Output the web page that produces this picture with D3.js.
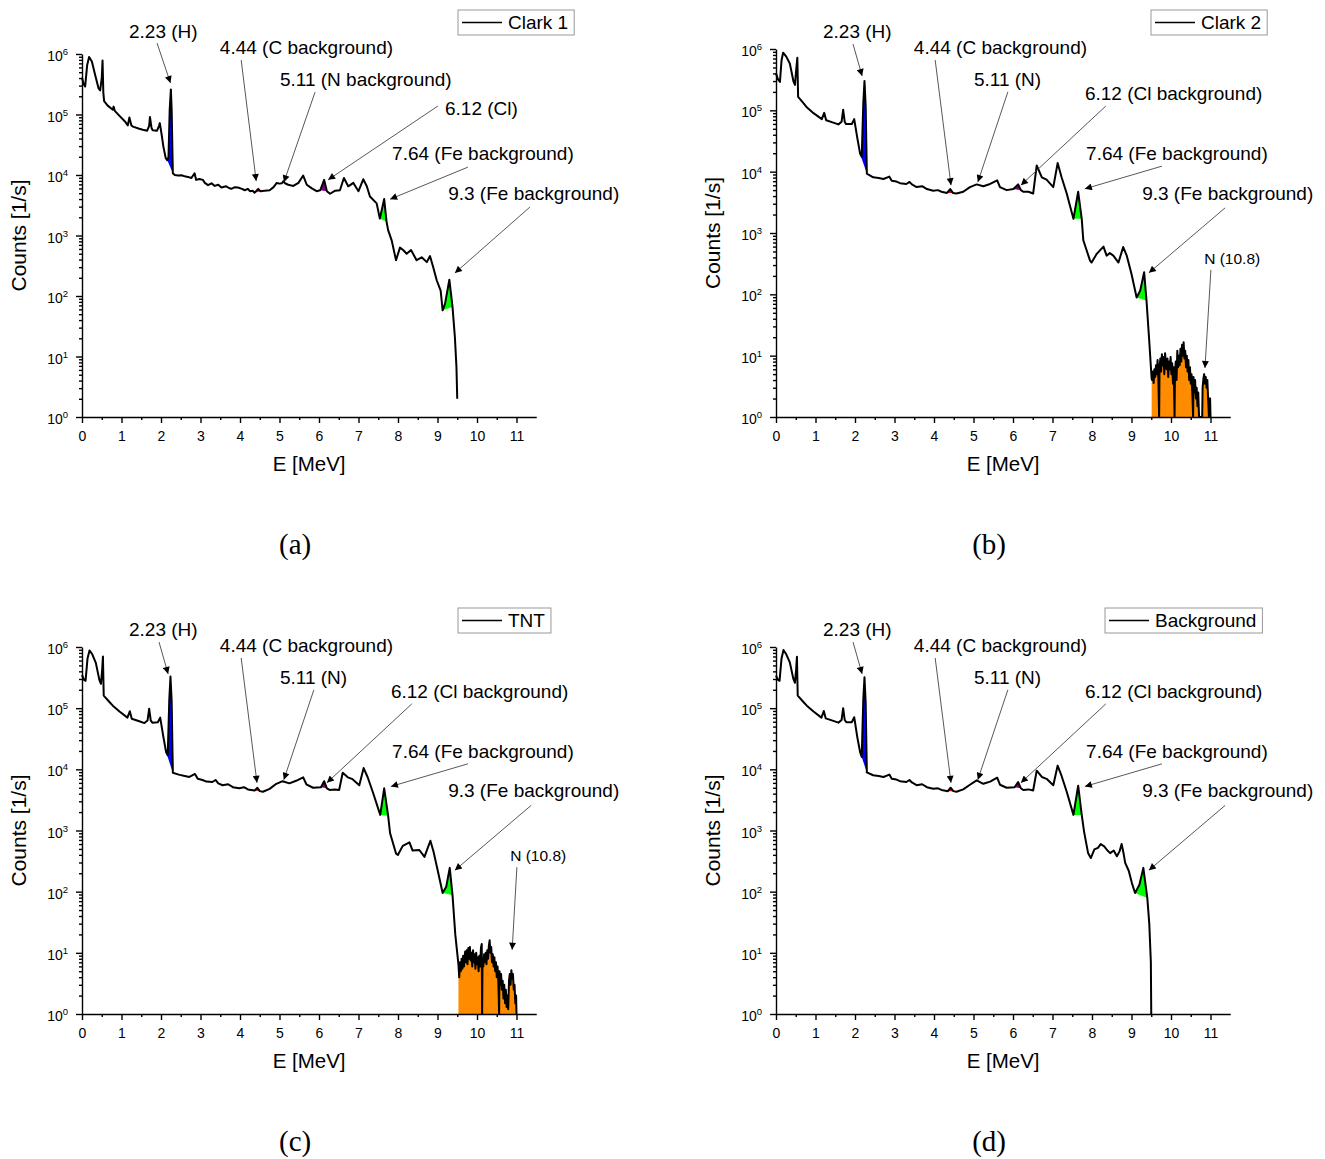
<!DOCTYPE html>
<html>
<head>
<meta charset="utf-8">
<script src="https://cdn.jsdelivr.net/npm/d3@7"></script>
<style>
  body { margin: 0; background: #fff; }
</style>
</head>
<body>
<div id="chart"></div>
<script>
// ---- spectra: [energy MeV, counts 1/s] ----
var clark1Spectrum = [
  [0.00,4.1e5],[0.04,3.2e5],[0.08,2.9e5],[0.13,6.5e5],[0.18,8.9e5],[0.25,7.5e5],[0.33,4.6e5],[0.42,2.7e5],
  [0.46,2.5e5],[0.50,4.0e5],[0.52,7.8e5],[0.54,2.3e5],[0.56,1.66e5],[0.65,1.4e5],[0.78,1.2e5],[0.80,1.35e5],
  [0.83,1.15e5],[0.95,9.5e4],[1.10,7.5e4],[1.16,6.6e4],[1.20,8.9e4],[1.25,6.6e4],[1.29,6.3e4],[1.45,5.8e4],
  [1.54,5.6e4],[1.65,5.4e4],[1.70,6.5e4],[1.72,9.1e4],[1.76,6.0e4],[1.79,5.5e4],[1.90,5.4e4],[1.95,6.5e4],
  [1.97,7.2e4],[2.02,4.5e4],[2.06,2.95e4],[2.12,1.9e4],[2.16,1.75e4],[2.19,2.0e4],[2.22,1.2e5],[2.25,2.6e5],
  [2.27,1.2e5],[2.30,1.07e4],[2.35,1.0e4],[2.43,9.8e3],[2.52,9.9e3],[2.60,9.5e3],[2.68,9.3e3],[2.77,8.9e3],
  [2.85,1.07e4],[2.89,8.3e3],[2.97,8.6e3],[3.06,8.3e3],[3.11,7.4e3],[3.19,6.8e3],[3.28,7.3e3],[3.36,6.6e3],
  [3.45,6.9e3],[3.53,6.2e3],[3.65,6.5e3],[3.72,6.1e3],[3.78,5.9e3],[3.87,6.3e3],[3.95,6.2e3],[4.05,5.9e3],
  [4.12,5.6e3],[4.20,5.9e3],[4.25,5.4e3],[4.32,5.5e3],[4.37,5.1e3],[4.46,5.9e3],[4.52,5.4e3],[4.62,5.5e3],
  [4.75,5.6e3],[4.85,6.3e3],[4.93,7.4e3],[5.00,7.2e3],[5.06,7.3e3],[5.10,7.9e3],[5.14,7.3e3],[5.22,6.9e3],
  [5.35,6.6e3],[5.48,7.4e3],[5.60,9.8e3],[5.69,6.9e3],[5.82,6.0e3],[5.94,5.4e3],[6.03,5.6e3],[6.13,8.3e3],
  [6.20,5.4e3],[6.28,4.9e3],[6.41,5.5e3],[6.53,5.6e3],[6.63,8.9e3],[6.74,6.5e3],[6.87,7.4e3],[7.00,5.4e3],
  [7.12,8.5e3],[7.21,6.5e3],[7.29,4.4e3],[7.46,3.4e3],[7.54,1.9e3],[7.65,4.0e3],[7.71,1.7e3],[7.75,1.23e3],
  [7.84,830],[7.95,390],[8.05,630],[8.13,575],[8.22,500],[8.33,575],[8.47,390],[8.60,436],
  [8.73,363],[8.81,457],[8.89,302],[8.98,182],[9.08,123],[9.13,58],[9.19,74],[9.30,186],
  [9.38,66],[9.44,21],[9.48,6.6],[9.50,2]
];

var clark2Main = [
  [0.00,4.0e5],[0.05,3.2e5],[0.10,2.9e5],[0.14,6.5e5],[0.18,8.7e5],[0.26,7.5e5],[0.35,5.8e5],[0.44,3.0e5],
  [0.48,2.6e5],[0.51,4.5e5],[0.54,7.2e5],[0.56,1.66e5],[0.70,1.3e5],[0.78,1.12e5],[0.95,9.0e4],[1.16,7.2e4],
  [1.22,9.1e4],[1.27,6.9e4],[1.45,6.3e4],[1.58,5.9e4],[1.66,6.5e4],[1.70,1.02e5],[1.74,6.5e4],[1.77,6.0e4],
  [1.92,6.0e4],[1.98,7.2e4],[2.06,3.5e4],[2.13,1.95e4],[2.17,1.74e4],[2.21,1.3e5],[2.24,3.0e5],[2.27,1.2e5],
  [2.30,9.3e3],[2.46,8.1e3],[2.60,7.9e3],[2.72,7.6e3],[2.87,8.3e3],[2.93,7.1e3],[3.05,6.9e3],[3.14,6.5e3],
  [3.30,6.3e3],[3.38,6.8e3],[3.44,6.2e3],[3.56,5.6e3],[3.70,5.8e3],[3.82,5.2e3],[3.98,4.9e3],[4.10,5.0e3],
  [4.19,4.7e3],[4.33,4.5e3],[4.41,5.2e3],[4.48,4.5e3],[4.57,4.4e3],[4.74,4.7e3],[4.91,5.6e3],[5.08,6.2e3],
  [5.25,5.8e3],[5.42,6.3e3],[5.60,7.2e3],[5.67,5.6e3],[5.84,5.0e3],[6.01,5.2e3],[6.13,6.2e3],[6.20,5.0e3],
  [6.26,4.7e3],[6.39,4.7e3],[6.51,4.4e3],[6.60,1.26e4],[6.73,8.1e3],[6.85,7.4e3],[7.02,5.6e3],[7.13,1.38e4],
  [7.23,8.1e3],[7.36,4.4e3],[7.53,1.7e3],[7.65,4.7e3],[7.74,1.7e3],[7.78,760],[7.95,355],[7.99,330],
  [8.12,457],[8.29,600],[8.37,427],[8.45,470],[8.54,427],[8.67,330],[8.79,590],[8.88,427],
  [9.00,214],[9.13,89],[9.22,115],[9.32,230],[9.38,79],[9.45,17],[9.51,4.2]
];
var clark2Tail = [
  [9.52,4.0],[9.54,5.5],[9.56,3.6],[9.58,6.0],[9.60,4.5],[9.62,7.0],[9.64,5.0],[9.66,8.5],[9.68,4.2],[9.70,1.0],
  [9.71,6.5],[9.73,9.0],[9.75,5.5],[9.77,10.5],[9.79,7.0],[9.81,9.5],[9.83,5.0],[9.85,11.0],[9.87,7.5],[9.89,6.0],
  [9.91,9.0],[9.93,4.5],[9.95,8.0],[9.97,6.0],[9.99,9.5],[10.01,5.0],[10.03,7.5],[10.05,3.5],[10.07,6.5],[10.09,1.0],
  [10.10,5.0],[10.12,8.0],[10.14,4.0],[10.16,12.0],[10.18,6.5],[10.20,10.0],[10.22,7.0],[10.24,13.0],[10.26,8.0],
  [10.28,15.0],[10.30,10.0],[10.32,16.5],[10.34,9.0],[10.36,12.0],[10.38,6.5],[10.40,10.0],[10.42,5.5],[10.44,8.5],
  [10.46,4.0],[10.48,6.5],[10.50,3.5],[10.52,5.0],[10.54,2.5],[10.56,1.0],[10.57,4.5],[10.59,2.5],[10.61,4.0],
  [10.63,2.0],[10.65,3.0],[10.67,1.5],[10.69,2.5],[10.71,1.0],[10.75,1.0],[10.79,1.0],[10.80,3.0],[10.82,4.2],
  [10.84,5.0],[10.86,3.5],[10.88,4.5],[10.90,3.0],[10.92,4.0],[10.94,2.0],[10.96,1.0],[10.97,2.0],[10.99,2.0],[11.00,1.0]
];

var tntMain = [
  [0.00,3.5e5],[0.05,2.9e5],[0.09,2.8e5],[0.14,6.5e5],[0.19,8.8e5],[0.26,7.6e5],[0.35,5.5e5],[0.44,2.9e5],
  [0.48,2.5e5],[0.51,4.2e5],[0.53,7.0e5],[0.55,1.6e5],[0.70,1.25e5],[0.78,1.1e5],[0.95,8.8e4],[1.15,7.0e4],
  [1.21,8.9e4],[1.26,6.7e4],[1.45,6.1e4],[1.58,5.7e4],[1.66,6.3e4],[1.70,9.8e4],[1.74,6.3e4],[1.78,5.8e4],
  [1.92,5.9e4],[1.98,7.0e4],[2.06,3.4e4],[2.13,1.9e4],[2.17,1.7e4],[2.21,1.4e5],[2.24,3.3e5],[2.27,1.3e5],
  [2.30,8.8e3],[2.45,8.2e3],[2.60,7.8e3],[2.72,7.5e3],[2.86,8.4e3],[2.93,7.0e3],[3.05,6.7e3],[3.15,6.3e3],
  [3.30,6.2e3],[3.38,6.7e3],[3.45,5.9e3],[3.56,5.5e3],[3.70,5.7e3],[3.82,5.1e3],[3.98,4.9e3],[4.10,5.1e3],
  [4.20,4.7e3],[4.37,4.5e3],[4.44,5.0e3],[4.50,4.4e3],[4.58,4.3e3],[4.75,4.8e3],[4.92,5.8e3],[5.08,6.4e3],
  [5.25,5.9e3],[5.42,6.5e3],[5.60,7.4e3],[5.68,5.7e3],[5.85,5.0e3],[6.05,5.1e3],[6.13,6.4e3],[6.20,4.9e3],
  [6.27,4.6e3],[6.40,4.7e3],[6.51,4.6e3],[6.60,8.8e3],[6.73,7.4e3],[6.85,6.9e3],[7.02,5.5e3],[7.13,1.05e4],
  [7.23,7.5e3],[7.36,4.3e3],[7.55,1.8e3],[7.65,4.9e3],[7.75,1.75e3],[7.80,900],[7.95,420],[8.00,400],
  [8.12,560],[8.29,640],[8.37,470],[8.54,480],[8.67,370],[8.82,680],[8.90,450],[9.00,230],
  [9.13,95],[9.22,120],[9.31,245],[9.38,88],[9.45,20],[9.53,6.5]
];
var tntTail = [
  [9.55,4.0],[9.57,7.0],[9.59,5.0],[9.61,8.0],[9.63,5.5],[9.65,9.0],[9.67,6.0],[9.70,10.5],[9.72,7.0],[9.74,11.0],
  [9.76,6.5],[9.78,12.0],[9.80,8.0],[9.82,12.5],[9.84,7.5],[9.86,10.0],[9.88,6.0],[9.90,11.0],[9.92,7.0],[9.94,9.5],
  [9.96,5.5],[9.98,10.0],[10.00,6.5],[10.02,8.5],[10.04,5.0],[10.06,9.0],[10.08,6.0],[10.10,12.0],[10.12,14.0],
  [10.13,1.0],[10.14,8.0],[10.16,6.0],[10.18,9.5],[10.20,7.0],[10.22,10.0],[10.24,6.5],[10.26,11.0],[10.28,8.0],
  [10.30,13.0],[10.32,16.0],[10.34,10.0],[10.36,12.5],[10.38,7.0],[10.40,9.5],[10.42,6.0],[10.44,8.5],[10.46,5.0],
  [10.48,7.0],[10.50,4.0],[10.52,6.0],[10.54,3.5],[10.56,1.0],[10.57,5.0],[10.59,3.0],[10.61,4.5],[10.63,2.5],
  [10.65,3.5],[10.67,1.8],[10.69,3.0],[10.71,1.5],[10.73,2.5],[10.75,1.3],[10.77,2.0],[10.79,1.2],[10.81,3.5],
  [10.83,4.5],[10.85,3.0],[10.87,5.2],[10.89,3.8],[10.91,4.5],[10.93,2.5],[10.95,3.0],[10.97,1.5],[10.99,2.0],[11.00,1.0]
];

var backgroundSpectrum = [
  [0.00,3.4e5],[0.05,2.9e5],[0.09,2.8e5],[0.14,6.5e5],[0.19,8.9e5],[0.26,7.6e5],[0.35,5.6e5],[0.44,3.0e5],
  [0.48,2.6e5],[0.51,4.3e5],[0.53,6.9e5],[0.55,1.6e5],[0.70,1.25e5],[0.78,1.1e5],[0.95,8.8e4],[1.15,7.0e4],
  [1.21,9.0e4],[1.26,6.8e4],[1.45,6.2e4],[1.58,5.8e4],[1.66,6.4e4],[1.70,1.0e5],[1.74,6.4e4],[1.78,5.9e4],
  [1.92,5.9e4],[1.98,7.1e4],[2.06,3.3e4],[2.13,1.9e4],[2.17,1.6e4],[2.21,1.4e5],[2.24,3.2e5],[2.27,1.25e5],
  [2.30,8.9e3],[2.46,8.0e3],[2.60,7.8e3],[2.72,7.5e3],[2.87,8.2e3],[2.93,7.0e3],[3.05,6.8e3],[3.14,6.4e3],
  [3.30,6.2e3],[3.38,6.7e3],[3.44,6.1e3],[3.56,5.5e3],[3.70,5.7e3],[3.82,5.1e3],[3.98,4.8e3],[4.10,4.9e3],
  [4.19,4.6e3],[4.35,4.4e3],[4.42,5.0e3],[4.49,4.4e3],[4.57,4.3e3],[4.74,4.7e3],[4.91,5.6e3],[5.08,6.6e3],
  [5.25,5.8e3],[5.42,6.3e3],[5.60,7.3e3],[5.67,5.6e3],[5.84,5.0e3],[6.04,5.1e3],[6.13,6.2e3],[6.20,4.9e3],
  [6.26,4.6e3],[6.39,4.7e3],[6.51,4.5e3],[6.60,9.5e3],[6.73,7.5e3],[6.85,7.0e3],[7.02,5.5e3],[7.13,1.15e4],
  [7.23,7.8e3],[7.36,4.3e3],[7.53,1.8e3],[7.65,5.4e3],[7.74,1.8e3],[7.80,950],[7.90,430],[7.97,355],
  [8.06,490],[8.15,520],[8.22,600],[8.31,550],[8.38,480],[8.46,427],[8.55,470],[8.63,380],
  [8.70,460],[8.75,600],[8.80,420],[8.84,295],[8.93,220],[9.01,138],[9.09,95],[9.20,130],
  [9.30,245],[9.40,79],[9.45,30],[9.49,7],[9.50,1]
];

// ---- highlighted peaks: [from MeV, to MeV, colour, fill kind] ----
var peaksClark1 = [
  [2.16,2.30,"#0000ff","chord"],[4.37,4.52,"#ff0000","chord"],[5.06,5.14,"#ff8c00","chord"],
  [6.03,6.20,"#800080","chord"],[7.54,7.71,"#00ff00","chord"],[9.13,9.38,"#00ff00","chord"]
];
var peaksClark2 = [
  [2.13,2.30,"#0000ff","chord"],[4.33,4.48,"#ff0000","chord"],[6.01,6.20,"#800080","chord"],
  [7.53,7.74,"#00ff00","chord"],[9.13,9.38,"#00ff00","chord"],[9.51,11.0,"#ff8c00","floor"]
];
var peaksTnt = [
  [2.13,2.30,"#0000ff","chord"],[4.37,4.50,"#ff0000","chord"],[6.05,6.20,"#800080","chord"],
  [7.55,7.75,"#00ff00","chord"],[9.13,9.38,"#00ff00","chord"],[9.53,11.0,"#ff8c00","floor"]
];
var peaksBackground = [
  [2.13,2.30,"#0000ff","chord"],[4.35,4.49,"#ff0000","chord"],[6.04,6.20,"#800080","chord"],
  [7.53,7.74,"#00ff00","chord"],[9.09,9.40,"#00ff00","chord"]
];

// ---- annotation texts ----
var labelsClark1 = ["2.23 (H)","4.44 (C background)","5.11 (N background)","6.12 (Cl)","7.64 (Fe background)","9.3 (Fe background)"];
var labelsOthers = ["2.23 (H)","4.44 (C background)","5.11 (N)","6.12 (Cl background)","7.64 (Fe background)","9.3 (Fe background)","N (10.8)"];

var xTicks = [0,1,2,3,4,5,6,7,8,9,10,11];
var yExponents = [0,1,2,3,4,5,6];

// annotation placement, in data units: text [E, log10], arrow start [E, log10], arrow tip [E, log10]
var placeA = [
  [[1.19,6.26],[1.90,6.18],[2.24,5.52]],
  [[3.49,6.00],[4.03,5.90],[4.41,3.90]],
  [[5.01,5.47],[5.90,5.37],[5.11,3.88]],
  [[9.19,4.99],[9.01,5.14],[6.23,3.92]],
  [[7.85,4.25],[9.77,4.13],[7.80,3.60]],
  [[9.27,3.59],[11.34,3.47],[9.44,2.38]]
];
var placeB = [
  [[1.19,6.18],[1.95,6.08],[2.18,5.56]],
  [[3.49,5.92],[4.03,5.82],[4.43,3.78]],
  [[5.01,5.40],[5.87,5.30],[5.11,3.83]],
  [[7.82,5.17],[8.35,5.07],[6.20,3.78]],
  [[7.85,4.19],[9.77,4.09],[7.82,3.72]],
  [[9.27,3.54],[11.37,3.41],[9.44,2.35]],
  [[10.84,2.50],[11.01,2.40],[10.86,0.80]]
];
var placeC = placeB.slice(0,6).concat([[[10.84,2.50],[11.01,2.40],[10.89,1.05]]]);
var placeD = placeB.slice(0,6);

var panels = [
  {data: clark1Spectrum, peaks: peaksClark1, labels: labelsClark1, place: placeA,
   name: "Clark 1", caption: "(a)", left: 82, top: 54, bottom: 417, legend: [458, 10]},
  {data: clark2Main.concat(clark2Tail), peaks: peaksClark2, labels: labelsOthers, place: placeB,
   name: "Clark 2", caption: "(b)", left: 776, top: 49, bottom: 417, legend: [1151, 10]},
  {data: tntMain.concat(tntTail), peaks: peaksTnt, labels: labelsOthers, place: placeC,
   name: "TNT", caption: "(c)", left: 82, top: 647, bottom: 1014, legend: [458, 608]},
  {data: backgroundSpectrum, peaks: peaksBackground, labels: labelsOthers.slice(0,6), place: placeD,
   name: "Background", caption: "(d)", left: 776, top: 647, bottom: 1014, legend: [1105, 608]}
];

var svgWidth = 1325;
var svgHeight = 1159;
var sans = "'Liberation Sans', Arial, sans-serif";

var $svg = d3.select("#chart")
  .append("svg")
  .attr("width", svgWidth)
  .attr("height", svgHeight)
  .style("font-family", sans);

$svg.append("defs")
  .append("marker")
  .attr("id", "arrowHead")
  .attr("viewBox", "0 0 10 10")
  .attr("refX", 10)
  .attr("refY", 5)
  .attr("markerWidth", 10)
  .attr("markerHeight", 7)
  .attr("markerUnits", "userSpaceOnUse")
  .attr("orient", "auto")
  .append("path")
  .attr("d", "M0,0L10,5L0,10Z")
  .attr("fill", "#000");

panels.forEach(drawPanel);

function drawPanel(p) {
  var x = d3.scaleLinear().domain([0, 11.5]).range([p.left, p.left + 11.5 * 39.5]);
  var y = d3.scaleLog().domain([1, 1e6]).range([p.bottom, p.top]);
  var g = $svg.append("g");

  var line = d3.line().x(d => x(d[0])).y(d => y(d[1]));

  // coloured peak areas
  p.peaks.forEach(function(pk) {
    var pts = p.data.filter(d => d[0] >= pk[0] - 1e-9 && d[0] <= pk[1] + 1e-9);
    var path;
    if (pk[3] === "floor") {
      path = d3.area().x(d => x(d[0])).y0(y(1)).y1(d => y(d[1]))(pts);
    } else {
      path = line(pts) + "Z";
    }
    g.append("path").attr("d", path).attr("fill", pk[2]).attr("stroke", "none");
  });

  // spectrum
  g.append("path")
    .datum(p.data)
    .attr("d", line)
    .attr("fill", "none")
    .attr("stroke", "#000")
    .attr("stroke-width", 2)
    .attr("stroke-linejoin", "round");

  // x axis
  var xMinor = d3.range(0.5, 11.5, 1);
  g.append("g")
    .attr("transform", `translate(0, ${p.bottom})`)
    .call(d3.axisBottom(x).tickValues(xMinor).tickSize(3).tickSizeOuter(0).tickFormat(""))
    .call(s => s.select(".domain").remove());
  var xa = g.append("g")
    .attr("transform", `translate(0, ${p.bottom})`)
    .call(d3.axisBottom(x).tickValues(xTicks).tickSize(6).tickSizeOuter(0).tickPadding(8).tickFormat(d3.format("d")));
  xa.selectAll("text").attr("font-size", "14px").attr("font-family", sans).attr("fill", "#000");

  // y axis
  var yMinor = [];
  yExponents.slice(0, 6).forEach(function(e) {
    for (var k = 2; k <= 9; k++) yMinor.push(k * Math.pow(10, e));
  });
  g.append("g")
    .attr("transform", `translate(${p.left}, 0)`)
    .call(d3.axisLeft(y).tickValues(yMinor).tickSize(3).tickSizeOuter(0).tickFormat(""))
    .call(s => s.select(".domain").remove());
  g.append("g")
    .attr("transform", `translate(${p.left}, 0)`)
    .call(d3.axisLeft(y).tickValues(yExponents.map(e => Math.pow(10, e))).tickSize(6).tickSizeOuter(0).tickFormat(""));
  g.selectAll(".domain, .tick line").attr("stroke", "#000").attr("stroke-width", 1.4);

  yExponents.forEach(function(e) {
    var t = g.append("text")
      .attr("x", p.left - 14)
      .attr("y", y(Math.pow(10, e)) + 7)
      .attr("text-anchor", "end")
      .attr("font-size", "14px")
      .text("10");
    t.append("tspan")
      .attr("dy", -6)
      .attr("font-size", "9.5px")
      .text(e);
  });

  // axis titles
  g.append("text")
    .attr("x", (x(0) + x(11.5)) / 2)
    .attr("y", p.bottom + 54)
    .attr("text-anchor", "middle")
    .attr("font-size", "20.5px")
    .text("E [MeV]");
  g.append("text")
    .attr("transform", `translate(${p.left - 56}, ${(p.top + p.bottom) / 2}) rotate(-90)`)
    .attr("text-anchor", "middle")
    .attr("font-size", "21px")
    .text("Counts [1/s]");

  // annotations
  p.labels.forEach(function(lab, i) {
    var pl = p.place[i];
    var small = lab.indexOf("N (") === 0;
    g.append("text")
      .attr("x", x(pl[0][0]))
      .attr("y", y(Math.pow(10, pl[0][1])))
      .attr("font-size", small ? "15.5px" : "19px")
      .text(lab);
    g.append("line")
      .attr("x1", x(pl[1][0]))
      .attr("y1", y(Math.pow(10, pl[1][1])))
      .attr("x2", x(pl[2][0]))
      .attr("y2", y(Math.pow(10, pl[2][1])))
      .attr("stroke", "#444")
      .attr("stroke-width", 0.9)
      .attr("marker-end", "url(#arrowHead)");
  });

  // legend
  var lg = g.append("g").attr("transform", `translate(${p.legend[0]}, ${p.legend[1]})`);
  var lt = lg.append("text")
    .attr("x", 50)
    .attr("y", 19)
    .attr("font-size", "19px")
    .text(p.name);
  var w = lt.node().getComputedTextLength() + 56;
  lg.insert("rect", "text")
    .attr("width", w)
    .attr("height", 25)
    .attr("fill", "#fff")
    .attr("stroke", "#999")
    .attr("stroke-width", 1);
  lg.append("line")
    .attr("x1", 4).attr("x2", 44)
    .attr("y1", 12.5).attr("y2", 12.5)
    .attr("stroke", "#000")
    .attr("stroke-width", 1.6);

  // caption
  $svg.append("text")
    .attr("x", (x(0) + x(11.5)) / 2 - 14)
    .attr("y", p.bottom + 137)
    .attr("text-anchor", "middle")
    .attr("font-family", "'Liberation Serif', 'DejaVu Serif', serif")
    .attr("font-size", "29px")
    .text(p.caption);
}
</script>
</body>
</html>
